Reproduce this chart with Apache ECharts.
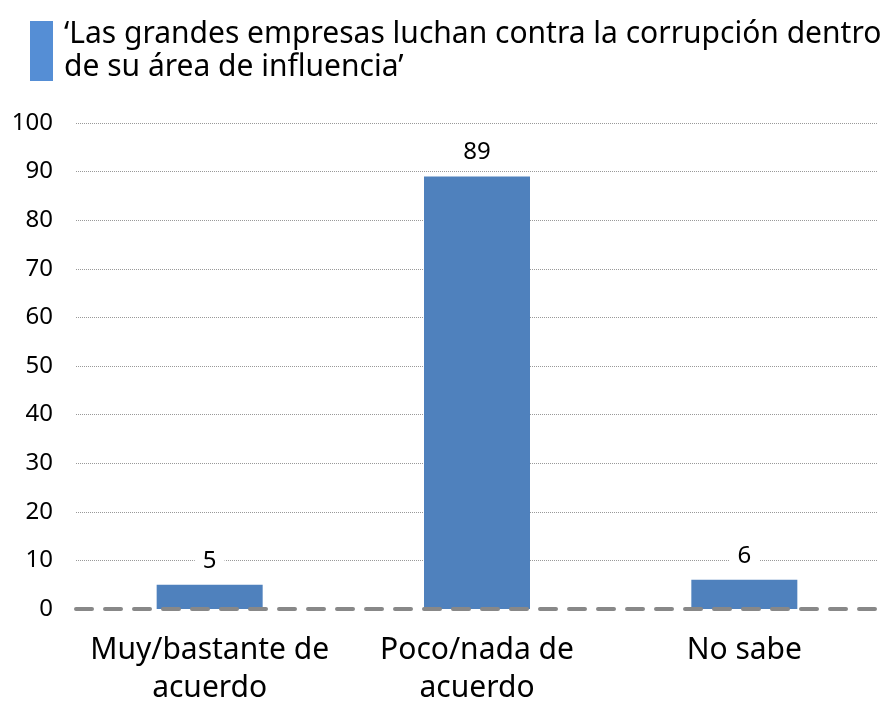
<!DOCTYPE html>
<html lang="es">
<head>
<meta charset="UTF-8">
<script src="https://cdn.jsdelivr.net/npm/echarts@6/dist/echarts.min.js"></script>
<style>
  html, body { margin: 0; padding: 0; background: #fff; }
  #container { width: 895px; height: 701px; }
</style>
</head>
<body>
<div id="container"></div>
<script type="text/javascript">
  var categories = ['Muy/bastante de\nacuerdo', 'Poco/nada de\nacuerdo', 'No sabe'];
  var values = [5, 89, 6];
  var seriesName = '‘Las grandes empresas luchan contra la corrupción dentro\nde su área de influencia’';

  var chart = echarts.init(document.getElementById('container'), null, { renderer: 'canvas' });
  var font = 'Noto Sans';

  chart.setOption({
    animation: false,
    textStyle: { fontFamily: font },
    legend: {
      left: 25,
      top: 13,
      icon: 'rect',
      itemWidth: 23,
      itemHeight: 60,
      itemGap: 0,
      itemStyle: { color: '#558ED5' },
      textStyle: { fontSize: 30, color: '#000', lineHeight: 33, fontFamily: font, padding: [0, 0, 0, 6] },
      data: [seriesName]
    },
    grid: { left: 76, right: 17, top: 123, bottom: 92, containLabel: false, outerBoundsMode: 'none' },
    xAxis: {
      type: 'category',
      data: categories,
      z: 5,
      axisTick: { show: false },
      axisLine: { lineStyle: { color: '#888', width: 4, type: [16, 13] } },
      axisLabel: { interval: 0, color: '#000', fontSize: 30, lineHeight: 38, margin: 22, fontFamily: font }
    },
    yAxis: {
      type: 'value',
      min: 0,
      max: 100,
      interval: 10,
      axisLine: { show: false },
      axisTick: { show: false },
      axisLabel: { color: '#000', fontSize: 24, margin: 23, fontFamily: font },
      splitLine: { showMinLine: false, lineStyle: { color: '#999', width: 1, type: [1, 1] } }
    },
    series: [{
      name: seriesName,
      type: 'bar',
      data: values,
      barWidth: 106,
      itemStyle: { color: '#4F81BD' },
      label: {
        show: true,
        position: 'top',
        distance: 10,
        color: '#000',
        fontSize: 24,
        fontFamily: font,
        backgroundColor: '#fff',
        padding: [2, 8]
      }
    }]
  });

  window.addEventListener('resize', chart.resize);
</script>
</body>
</html>
